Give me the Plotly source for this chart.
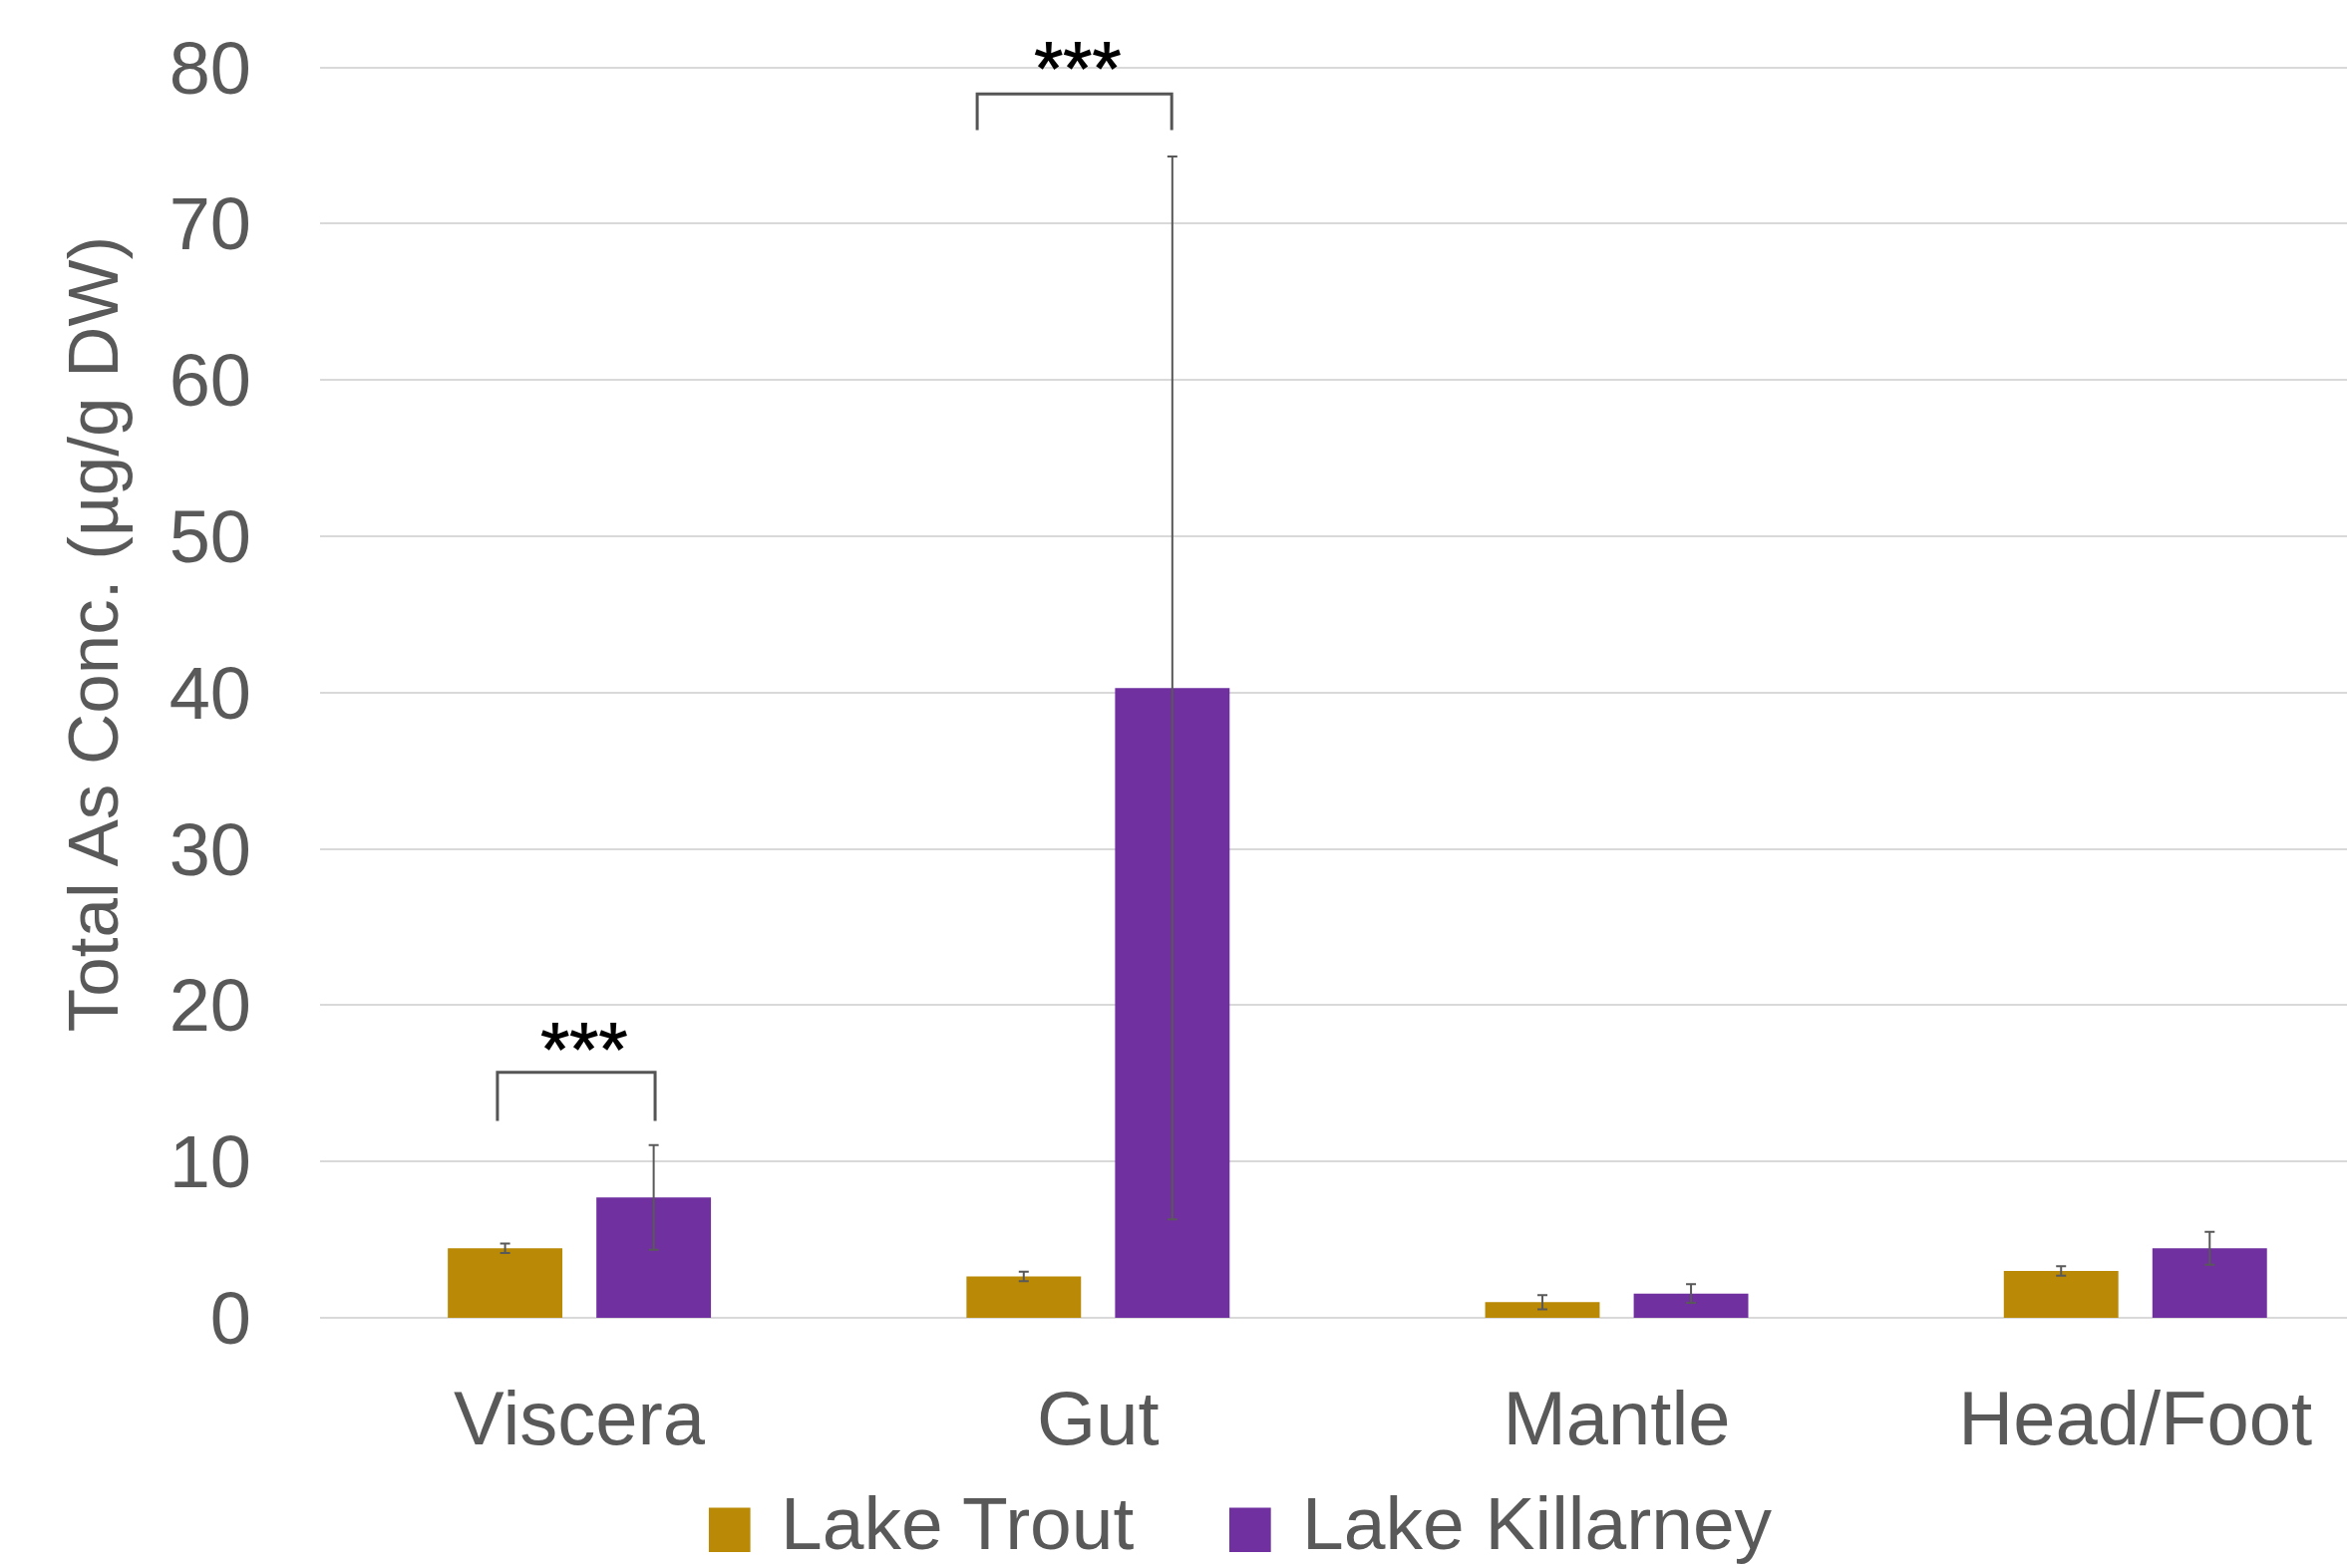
import plotly.graph_objects as go

# ---------------- data ----------------
categories = ["Viscera", "Gut", "Mantle", "Head/Foot"]
series_names = ["Lake Trout", "Lake Killarney"]
lake_trout = [4.45, 2.65, 1.0, 3.0]
lake_trout_err = [0.3, 0.3, 0.45, 0.3]
lake_killarney = [7.7, 40.3, 1.55, 4.45]
lake_killarney_err = [3.35, 34.0, 0.6, 1.05]
y_tick_values = [0, 10, 20, 30, 40, 50, 60, 70, 80]
y_title = "Total As Conc. (µg/g DW)"

# significance brackets (category index, label)
sig_labels = ["***", "***"]
sig_category = [0, 1]
sig_left = [-0.158, -0.233]      # offset of left leg from category centre
sig_right = [0.146, 0.142]       # offset of right leg
sig_top = [15.7, 78.3]
sig_leg_bottom = [12.6, 76.0]
sig_text_x = [0.008, -0.04]
sig_text_y = [17.3, 80.05]

# ---------------- style ----------------
gold = "#BA8A06"
purple = "#7030A0"
text_gray = "#595959"
grid_gray = "#D9D9D9"
font_family = "Liberation Sans, Arial, sans-serif"

fig = go.Figure()
fig.add_trace(go.Bar(
    x=categories, y=lake_trout, name=series_names[0],
    marker=dict(color=gold, line=dict(width=0)),
    error_y=dict(type="data", array=lake_trout_err, visible=True,
                 color=text_gray, thickness=2, width=5),
    showlegend=False,
))
fig.add_trace(go.Bar(
    x=categories, y=lake_killarney, name=series_names[1],
    marker=dict(color=purple, line=dict(width=0)),
    error_y=dict(type="data", array=lake_killarney_err, visible=True,
                 color=text_gray, thickness=2, width=5),
    showlegend=False,
))

shapes = []
annotations = []
for lab, c, l, r, t, b, tx, ty in zip(sig_labels, sig_category, sig_left, sig_right,
                                      sig_top, sig_leg_bottom, sig_text_x, sig_text_y):
    shapes.append(dict(
        type="path", xref="x", yref="y",
        path=f"M {c + l},{b} L {c + l},{t} L {c + r},{t} L {c + r},{b}",
        line=dict(color="#555555", width=3),
    ))
    annotations.append(dict(
        x=c + tx, y=ty, xref="x", yref="y", text=f"<b>{lab}</b>", showarrow=False,
        font=dict(family="Roboto", size=64, color="black"),
        xanchor="center", yanchor="middle",
    ))

# y-axis title
annotations.append(dict(
    x=-0.1121, y=0.54, xref="paper", yref="paper", text=y_title,
    showarrow=False, textangle=-90,
    font=dict(family=font_family, size=71, color=text_gray),
    xanchor="center", yanchor="middle",
))

# legend (manual, to get large swatches)
legend_colors = [gold, purple]
legend_swatch_x = [0.1918, 0.4486]
legend_text_x = [0.2265, 0.4835]
sw = 0.0205
for name, col, sx, tx in zip(series_names, legend_colors, legend_swatch_x, legend_text_x):
    shapes.append(dict(
        type="rect", xref="paper", yref="paper",
        x0=sx, x1=sx + sw, y0=-0.1500, y1=-0.1850,
        fillcolor=col, line=dict(width=0),
    ))
    annotations.append(dict(
        x=tx, y=-0.1620, xref="paper", yref="paper", text=name,
        showarrow=False, xanchor="left", yanchor="middle",
        font=dict(family=font_family, size=75, color=text_gray),
    ))

y_top = 81.0
px_per_unit = 1254 / 80.0
fig.update_layout(
    width=2354, height=1573, autosize=False,
    margin=dict(l=321, r=0, t=round(68 - (y_top - 80) * px_per_unit), b=251),
    paper_bgcolor="white", plot_bgcolor="white",
    barmode="group", bargap=0.427, bargroupgap=0.229,
    shapes=shapes, annotations=annotations,
    showlegend=False,
    font=dict(family=font_family, color=text_gray),
)
fig.update_xaxes(
    type="category", range=[-0.5, 3.408],
    showgrid=False, showline=False, zeroline=False, ticks="",
    tickfont=dict(family=font_family, size=76, color=text_gray),
    ticklabelstandoff=50,
)
fig.update_yaxes(
    range=[0, y_top], tickvals=y_tick_values,
    showgrid=True, gridcolor=grid_gray, gridwidth=2,
    zeroline=True, zerolinecolor=grid_gray, zerolinewidth=2,
    showline=False, ticks="",
    tickfont=dict(family=font_family, size=74, color=text_gray),
    ticklabelstandoff=68,
)

fig.write_html("out.html")
